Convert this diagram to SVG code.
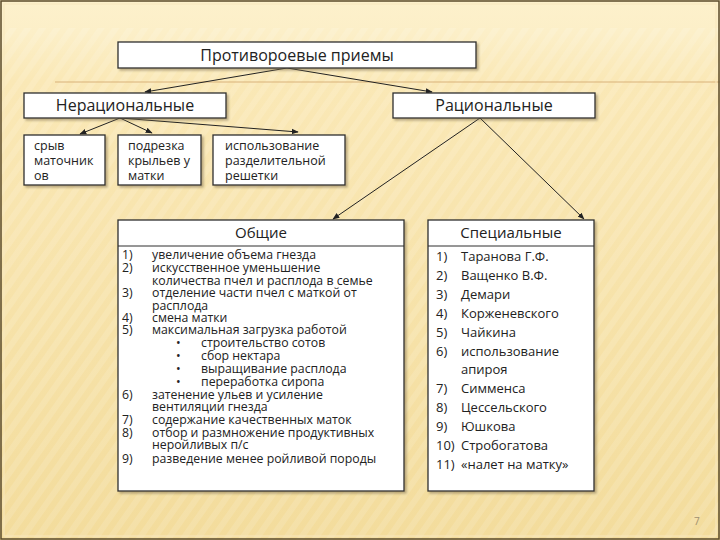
<svg xmlns="http://www.w3.org/2000/svg" width="720" height="540" viewBox="0 0 720 540">
<defs>
<linearGradient id="bg" x1="0" y1="0" x2="0" y2="1">
<stop offset="0" stop-color="#fdf1cc"/>
<stop offset="0.06" stop-color="#fcefc8"/>
<stop offset="0.15" stop-color="#fae8b6"/>
<stop offset="1" stop-color="#f3dc9c"/>
</linearGradient>
<pattern id="stripes" width="12" height="12" patternUnits="userSpaceOnUse" patternTransform="rotate(35)">
<rect width="6" height="12" fill="#ffffff" opacity="0.12"/>
</pattern>
<filter id="sh" x="-5%" y="-5%" width="115%" height="130%">
<feDropShadow dx="2" dy="2" stdDeviation="1.2" flood-color="#7a6a4a" flood-opacity="0.5"/>
</filter>
<marker id="ah" viewBox="0 0 10 10" refX="9" refY="5" markerWidth="7" markerHeight="7" orient="auto-start-reverse" markerUnits="userSpaceOnUse">
<path d="M0,1 L10,5 L0,9 z" fill="#222"/>
</marker>
</defs>
<style>
.box{fill:#ffffff;stroke:#2e2e2e;stroke-width:1.3;filter:url(#sh)}
.t{font-family:"Open Sans","Liberation Sans",sans-serif;fill:#222}
.h{font-size:16px;text-anchor:middle}
.s{font-size:12.5px}
.g{font-size:12.3px}
.p{font-size:13px}
.c{stroke:#222;stroke-width:1;fill:none;marker-end:url(#ah)}
</style>
<rect width="720" height="540" fill="url(#bg)"/>
<rect y="28" width="720" height="512" fill="url(#stripes)"/>
<line x1="55" y1="82" x2="720" y2="82" stroke="#d9b27a" stroke-width="1"/>
<rect x="1" y="1" width="718" height="538" fill="none" stroke="#5a4a2a" stroke-width="1.5"/>
<rect x="4" y="4" width="712" height="532" fill="none" stroke="#f8e7bd" stroke-width="1"/>

<g id="connectors">
<line class="c" x1="287" y1="68" x2="145" y2="92"/>
<line class="c" x1="287" y1="68" x2="432" y2="92"/>
<line class="c" x1="120" y1="118" x2="80" y2="134"/>
<line class="c" x1="120" y1="118" x2="152" y2="133"/>
<line class="c" x1="120" y1="118" x2="298" y2="132"/>
<line class="c" x1="480" y1="118" x2="333" y2="219"/>
<line class="c" x1="480" y1="118" x2="584" y2="219"/>
</g>

<g id="root">
<rect class="box" x="118" y="42" width="358" height="26"/>
<text class="t h" x="297" y="61">Противороевые приемы</text>
</g>
<g id="irrational">
<rect class="box" x="24" y="93" width="202" height="25"/>
<text class="t h" x="125" y="111">Нерациональные</text>
</g>
<g id="rational">
<rect class="box" x="393" y="93" width="202" height="25"/>
<text class="t h" x="494" y="111">Рациональные</text>
</g>
<g id="n1">
<rect class="box" x="24" y="135" width="81" height="50"/>
<text class="t s" x="34" y="150">срыв</text>
<text class="t s" x="34" y="165">маточник</text>
<text class="t s" x="34" y="180">ов</text>
</g>
<g id="n2">
<rect class="box" x="118" y="135" width="83" height="50"/>
<text class="t s" x="128" y="150">подрезка</text>
<text class="t s" x="128" y="165">крыльев у</text>
<text class="t s" x="128" y="180">матки</text>
</g>
<g id="n3">
<rect class="box" x="213" y="135" width="132" height="50"/>
<text class="t s" x="225" y="150">использование</text>
<text class="t s" x="225" y="165">разделительной</text>
<text class="t s" x="225" y="180">решетки</text>
</g>
<g id="general">
<rect class="box" x="118" y="220" width="286" height="271"/>
<line x1="118" y1="246" x2="404" y2="246" stroke="#2e2e2e" stroke-width="1"/>
<text class="t h" x="261" y="238" style="font-size:15px">Общие</text>
<g class="t g">
<text x="122" y="259">1)</text><text x="152" y="259">увеличение объема гнезда</text>
<text x="122" y="272">2)</text><text x="152" y="272">искусственное уменьшение</text>
<text x="152" y="285">количества пчел и расплода в семье</text>
<text x="122" y="297">3)</text><text x="152" y="297">отделение части пчел с маткой от</text>
<text x="152" y="310">расплода</text>
<text x="122" y="322">4)</text><text x="152" y="322">смена матки</text>
<text x="122" y="334">5)</text><text x="152" y="334">максимальная загрузка работой</text>
<text x="176" y="347">•</text><text x="201" y="347">строительство сотов</text>
<text x="176" y="360">•</text><text x="201" y="360">сбор нектара</text>
<text x="176" y="373">•</text><text x="201" y="373">выращивание расплода</text>
<text x="176" y="386">•</text><text x="201" y="386">переработка сиропа</text>
<text x="122" y="399">6)</text><text x="152" y="399">затенение ульев и усиление</text>
<text x="152" y="411">вентиляции гнезда</text>
<text x="122" y="424">7)</text><text x="152" y="424">содержание качественных маток</text>
<text x="122" y="437">8)</text><text x="152" y="437">отбор и размножение продуктивных</text>
<text x="152" y="449">неройливых п/с</text>
<text x="122" y="463">9)</text><text x="152" y="463">разведение менее ройливой породы</text>
</g>
</g>
<g id="special">
<rect class="box" x="428" y="220" width="166" height="271"/>
<line x1="428" y1="246" x2="594" y2="246" stroke="#2e2e2e" stroke-width="1"/>
<text class="t h" x="511" y="238" style="font-size:15px">Специальные</text>
<g class="t p">
<text x="436" y="261">1)</text><text x="461" y="261">Таранова Г.Ф.</text>
<text x="436" y="280">2)</text><text x="461" y="280">Ващенко В.Ф.</text>
<text x="436" y="299">3)</text><text x="461" y="299">Демари</text>
<text x="436" y="318">4)</text><text x="461" y="318">Корженевского</text>
<text x="436" y="337">5)</text><text x="461" y="337">Чайкина</text>
<text x="436" y="356">6)</text><text x="461" y="356">использование</text>
<text x="461" y="374">апироя</text>
<text x="436" y="393">7)</text><text x="461" y="393">Симменса</text>
<text x="436" y="412">8)</text><text x="461" y="412">Цессельского</text>
<text x="436" y="431">9)</text><text x="461" y="431">Юшкова</text>
<text x="436" y="450">10)</text><text x="461" y="450">Стробогатова</text>
<text x="436" y="469">11)</text><text x="461" y="469">«налет на матку»</text>
</g>
</g>
<text class="t" x="694" y="525" style="font-size:10px;fill:#a09070">7</text>
</svg>
